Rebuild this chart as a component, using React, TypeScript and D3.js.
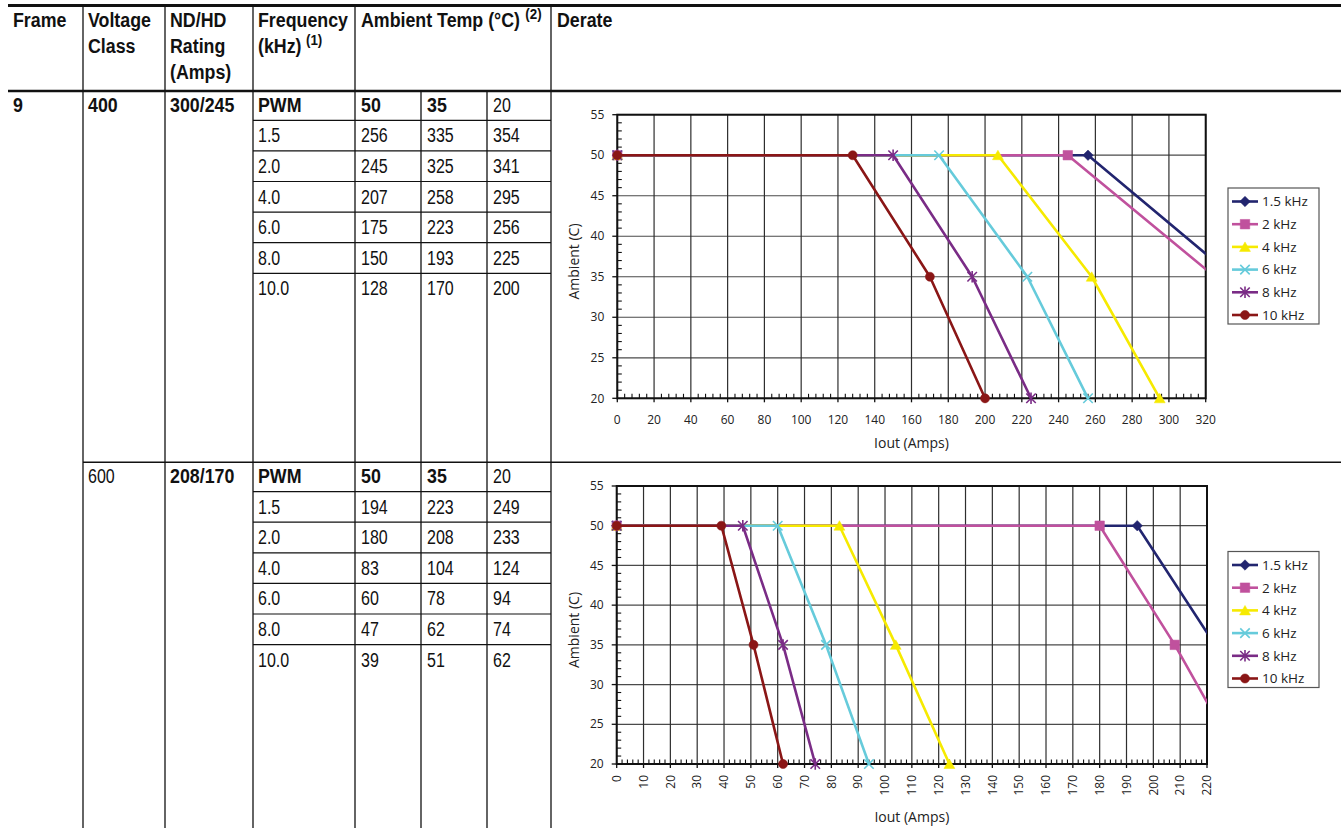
import React from "react";
import * as d3 from "d3";

// ---------------- data ----------------
const frameLabel = "9";
const voltageClasses = ["400", "600"];
const ratings = ["300/245", "208/170"];
const pwmFrequencies = ["1.5", "2.0", "4.0", "6.0", "8.0", "10.0"];
const ambientColumns = ["50", "35", "20"];
const ambientTemps = [50, 35, 20];
const seriesNames = ["1.5 kHz", "2 kHz", "4 kHz", "6 kHz", "8 kHz", "10 kHz"];
const seriesColors = ["#22256f", "#c0519d", "#f6ea00", "#66cbdb", "#7a2c86", "#8a1616"];
const seriesMarkers = ["diamond", "square", "triangle", "x", "asterisk", "circle"];

const amps400At50 = [256, 245, 207, 175, 150, 128];
const amps400At35 = [335, 325, 258, 223, 193, 170];
const amps400At20 = [354, 341, 295, 256, 225, 200];
const amps600At50 = [194, 180, 83, 60, 47, 39];
const amps600At35 = [223, 208, 104, 78, 62, 51];
const amps600At20 = [249, 233, 124, 94, 74, 62];
const startIout = 0;
const startTemp = 50;

const xTicks400 = [0, 20, 40, 60, 80, 100, 120, 140, 160, 180, 200, 220, 240, 260, 280, 300, 320];
const xTicks600 = [0, 10, 20, 30, 40, 50, 60, 70, 80, 90, 100, 110, 120, 130, 140, 150, 160, 170, 180, 190, 200, 210, 220];
const yTicks = [20, 25, 30, 35, 40, 45, 50, 55];

// ---------------- layout ----------------
const W = 1341;
const H = 828;
const TF = "'Liberation Sans', Arial, sans-serif";
const SX = 0.8; // horizontal condensing of regular table text
const SXB = 0.89; // horizontal condensing of bold table text
const CF = "'Open Sans', 'Noto Sans', sans-serif";
const colX = [8, 83, 165, 253, 355, 421, 487, 551];

function markerPath(kind: string, s: number): string {
  const h = s / 2;
  switch (kind) {
    case "diamond":
      return `M0,${-h * 1.1}L${h * 1.1},0L0,${h * 1.1}L${-h * 1.1},0Z`;
    case "square":
      return `M${-h},${-h}H${h}V${h}H${-h}Z`;
    case "triangle":
      return `M0,${-h * 1.05}L${h * 1.15},${h * 0.95}L${-h * 1.15},${h * 0.95}Z`;
    case "x":
      return `M${-h},${-h}L${h},${h}M${-h},${h}L${h},${-h}`;
    case "asterisk":
      return `M${-h},${-h}L${h},${h}M${-h},${h}L${h},${-h}M0,${-h * 1.2}L0,${h * 1.2}`;
    default:
      return d3.symbol(d3.symbolCircle, Math.PI * (h * 0.95) * (h * 0.95))() as string;
  }
}

function Marker({ kind, color, cx, cy }: { kind: string; color: string; cx: number; cy: number }) {
  const stroked = kind === "x" || kind === "asterisk";
  return (
    <path
      d={markerPath(kind, 9.5)}
      transform={`translate(${cx},${cy})`}
      fill={stroked ? "none" : color}
      stroke={color}
      strokeWidth={stroked ? 1.6 : 0.5}
    />
  );
}

type ChartProps = {
  id: string;
  left: number;
  right: number;
  top: number;
  bottom: number;
  xMax: number;
  xTicks: number[];
  xMinor: number;
  rotateX: boolean;
  a50: number[];
  a35: number[];
  a20: number[];
  legendX: number;
  legendY: number;
  xTitleY: number;
};

function DerateChart(p: ChartProps) {
  const x = d3.scaleLinear().domain([0, p.xMax]).range([p.left, p.right]);
  const y = d3.scaleLinear().domain([20, 55]).range([p.bottom, p.top]);
  const line = d3
    .line<[number, number]>()
    .x((d) => x(d[0]))
    .y((d) => y(d[1]));
  const series = seriesNames.map((name, i) => {
    const pts: [number, number][] = [
      [startIout, startTemp],
      [p.a50[i], ambientTemps[0]],
      [p.a35[i], ambientTemps[1]],
      [p.a20[i], ambientTemps[2]],
    ];
    return { name, pts, color: seriesColors[i], marker: seriesMarkers[i] };
  });
  const xMinorTicks = d3.range(0, p.xMax + 1e-6, p.xMinor).filter((v) => !p.xTicks.includes(v));
  const yMinorTicks = d3.range(20, 55.001, 1).filter((v) => !yTicks.includes(v));
  const midY = (p.top + p.bottom) / 2;
  return (
    <g>
      <defs>
        <clipPath id={p.id}>
          <rect x={p.left} y={p.top - 12} width={p.right - p.left} height={p.bottom - p.top + 24} />
        </clipPath>
      </defs>
      {yTicks.map((t) => (
        <line key={"gy" + t} x1={p.left} x2={p.right} y1={y(t)} y2={y(t)} stroke="#4a4a4a" strokeWidth={1.2} />
      ))}
      {p.xTicks.map((t) => (
        <line key={"gx" + t} x1={x(t)} x2={x(t)} y1={p.top} y2={p.bottom} stroke="#2e2e2e" strokeWidth={1.2} />
      ))}
      <rect x={p.left} y={p.top} width={p.right - p.left} height={p.bottom - p.top} fill="none" stroke="#111" strokeWidth={2} />
      {yTicks.map((t) => (
        <line key={"ty" + t} x1={p.left - 5} x2={p.left} y1={y(t)} y2={y(t)} stroke="#111" strokeWidth={1.3} />
      ))}
      {p.xTicks.map((t) => (
        <line key={"tx" + t} x1={x(t)} x2={x(t)} y1={p.bottom} y2={p.bottom + 4} stroke="#111" strokeWidth={1.3} />
      ))}
      {yMinorTicks.map((t) => (
        <line key={"my" + t} x1={p.left} x2={p.left + 4.5} y1={y(t)} y2={y(t)} stroke="#111" strokeWidth={1.1} />
      ))}
      {xMinorTicks.map((t) => (
        <line key={"mx" + t} x1={x(t)} x2={x(t)} y1={p.bottom} y2={p.bottom - 4.5} stroke="#111" strokeWidth={1.1} />
      ))}
      {yTicks.map((t) => (
        <text key={"ly" + t} x={p.left - 13} y={y(t)} dy="0.35em" textAnchor="end" fontFamily={CF} fontSize={12} fill="#222">
          {t}
        </text>
      ))}
      {p.xTicks.map((t) =>
        p.rotateX ? (
          <text
            key={"lx" + t}
            transform={`translate(${x(t)},${p.bottom + 11}) rotate(-90)`}
            dy="0.35em"
            textAnchor="end"
            fontFamily={CF}
            fontSize={12}
            fill="#222"
          >
            {t}
          </text>
        ) : (
          <text key={"lx" + t} x={x(t)} y={p.bottom + 26} textAnchor="middle" fontFamily={CF} fontSize={12} fill="#222">
            {t}
          </text>
        )
      )}
      <text
        transform={`translate(${p.left - 38},${midY + 5}) rotate(-90)`}
        textAnchor="middle"
        fontFamily={CF}
        fontSize={14}
        fill="#222"
      >
        Ambient (C)
      </text>
      <text x={(p.left + p.right) / 2} y={p.xTitleY} dy="0.35em" textAnchor="middle" fontFamily={CF} fontSize={14} fill="#222">
        Iout (Amps)
      </text>
      {series.map((s) => (
        <g key={s.name}>
          <path d={line(s.pts) as string} fill="none" stroke={s.color} strokeWidth={2.6} clipPath={`url(#${p.id})`} strokeLinejoin="round" />
          {s.pts
            .filter((d) => d[0] <= p.xMax)
            .map((d, j) => (
              <Marker key={j} kind={s.marker} color={s.color} cx={x(d[0])} cy={y(d[1])} />
            ))}
        </g>
      ))}
      <rect x={p.legendX} y={p.legendY} width={91} height={136} fill="#fff" stroke="#555" strokeWidth={1.2} />
      {series.map((s, i) => {
        const ly = p.legendY + 13.5 + i * 22.7;
        return (
          <g key={"lg" + s.name}>
            <line x1={p.legendX + 4} x2={p.legendX + 30} y1={ly} y2={ly} stroke={s.color} strokeWidth={2.6} />
            <Marker kind={s.marker} color={s.color} cx={p.legendX + 17} cy={ly} />
            <text x={p.legendX + 34} y={ly} dy="0.36em" fontFamily={CF} fontSize={13.5} fill="#222">
              {s.name}
            </text>
          </g>
        );
      })}
    </g>
  );
}

function T({ x, y, bold, children }: { x: number; y: number; bold?: boolean; children: React.ReactNode }) {
  return (
    <text
      transform={`translate(${x},${y}) scale(${bold ? SXB : SX},1)`}
      fontFamily={TF}
      fontSize={20}
      fontWeight={bold ? 700 : 400}
      fill="#111"
    >
      {children}
    </text>
  );
}

function Section({ top, idx }: { top: number; idx: number }) {
  const a50 = idx === 0 ? amps400At50 : amps600At50;
  const a35 = idx === 0 ? amps400At35 : amps600At35;
  const a20 = idx === 0 ? amps400At20 : amps600At20;
  const base0 = top + 20.7;
  const rowH = 30.6;
  const rules = d3.range(6).map((k) => top + 29.3 + k * rowH);
  return (
    <g>
      {rules.map((ry, k) => (
        <line key={k} x1={colX[3]} x2={colX[7]} y1={ry} y2={ry} stroke="#111" strokeWidth={1.2} />
      ))}
      {idx === 0 && <T x={13} y={base0} bold>{frameLabel}</T>}
      <T x={88} y={base0} bold={idx === 0}>{voltageClasses[idx]}</T>
      <T x={170} y={base0} bold>{ratings[idx]}</T>
      <T x={258} y={base0} bold>PWM</T>
      {ambientColumns.map((c, j) => (
        <T key={c} x={colX[4 + j] + 6} y={base0} bold={j < 2}>{c}</T>
      ))}
      {pwmFrequencies.map((f, i) => {
        const by = base0 + 30.6 + i * rowH;
        return (
          <g key={f}>
            <T x={258} y={by}>{f}</T>
            <T x={colX[4] + 6} y={by}>{String(a50[i])}</T>
            <T x={colX[5] + 6} y={by}>{String(a35[i])}</T>
            <T x={colX[6] + 6} y={by}>{String(a20[i])}</T>
          </g>
        );
      })}
    </g>
  );
}

export default function App() {
  const secTop = [91, 462.3];
  return (
    <svg width={W} height={H} style={{ position: "absolute", left: 0, top: 0, background: "#fff" }}>
      <rect x={0} y={0} width={W} height={H} fill="#fff" />
      <line x1={8} x2={W} y1={5.5} y2={5.5} stroke="#111" strokeWidth={3} />
      <line x1={8} x2={W} y1={secTop[0]} y2={secTop[0]} stroke="#111" strokeWidth={2.6} />
      <line x1={colX[1]} x2={W} y1={secTop[1]} y2={secTop[1]} stroke="#111" strokeWidth={1.5} />
      {[1, 2, 3, 4, 7].map((c) => (
        <line key={c} x1={colX[c]} x2={colX[c]} y1={5} y2={H} stroke="#111" strokeWidth={1.3} />
      ))}
      {[5, 6].map((c) => (
        <line key={c} x1={colX[c]} x2={colX[c]} y1={secTop[0]} y2={H} stroke="#111" strokeWidth={1.3} />
      ))}
      <T x={13} y={27} bold>Frame</T>
      <T x={88} y={27} bold>Voltage</T>
      <T x={88} y={53} bold>Class</T>
      <T x={170} y={27} bold>ND/HD</T>
      <T x={170} y={53} bold>Rating</T>
      <T x={170} y={79} bold>(Amps)</T>
      <T x={258} y={27} bold>Frequency</T>
      <T x={258} y={53} bold>
        (kHz)
        <tspan dx={5} dy={-8} fontSize={15}>(1)</tspan>
      </T>
      <T x={361} y={27} bold>
        Ambient Temp (°C)
        <tspan dx={6} dy={-8} fontSize={15}>(2)</tspan>
      </T>
      <T x={557} y={27} bold>Derate</T>
      <Section top={secTop[0]} idx={0} />
      <Section top={secTop[1]} idx={1} />
      <DerateChart
        id="clip400"
        left={617.3}
        right={1205.7}
        top={114.7}
        bottom={398.3}
        xMax={320}
        xTicks={xTicks400}
        xMinor={4}
        rotateX={false}
        a50={amps400At50}
        a35={amps400At35}
        a20={amps400At20}
        legendX={1228}
        legendY={188}
        xTitleY={443}
      />
      <DerateChart
        id="clip600"
        left={616.7}
        right={1207}
        top={486}
        bottom={764}
        xMax={220}
        xTicks={xTicks600}
        xMinor={2}
        rotateX={true}
        a50={amps600At50}
        a35={amps600At35}
        a20={amps600At20}
        legendX={1228}
        legendY={551.5}
        xTitleY={817}
      />
    </svg>
  );
}
